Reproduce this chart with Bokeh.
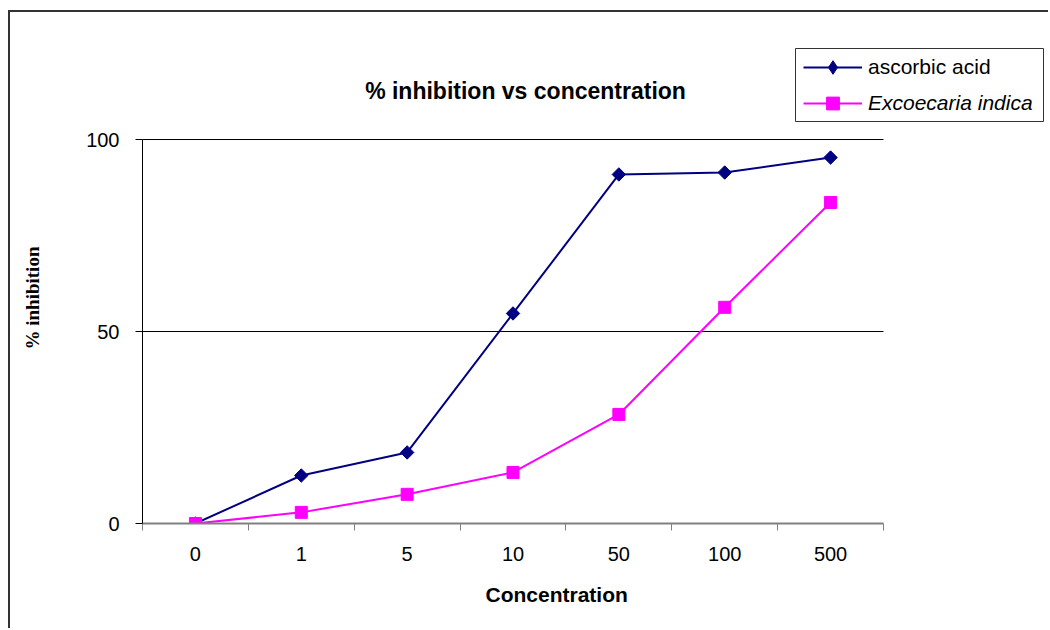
import math
from bokeh.plotting import figure
from bokeh.models import (Range1d, FixedTicker, Legend, LegendItem, Label, Title,
                          BoxAnnotation)
from bokeh.embed import file_html
from bokeh.resources import INLINE

# ---- data ----
categories = ["0", "1", "5", "10", "50", "100", "500"]
ascorbic_acid = [0, 12.5, 18.5, 54.7, 90.9, 91.4, 95.3]
excoecaria_indica = [0, 2.9, 7.6, 13.3, 28.4, 56.3, 83.6]
y_ticks = [0, 50, 100]
grid_ticks = [50, 100]

NAVY = "#000080"
MAGENTA = "#FF00FF"
FONT = "Liberation Sans"

n = len(categories)
xpos = [i + 0.5 for i in range(n)]
boundaries = list(range(n + 1))

# plot area of the chart: 741 px for the 7 categories, 384 px for 0..100;
# the drawing frame extends further right/up so that legend and title fit inside it
p = figure(width=1048, height=628, output_backend="svg", toolbar_location=None,
           x_range=Range1d(0, n * 906 / 741), y_range=Range1d(0, 100 * 503 / 384),
           min_border_left=142, min_border_right=0, min_border_top=20,
           min_border_bottom=105)
p.title = None
# outer chart border (top and left edges)
p.styles = {
    "background-image": "linear-gradient(#333333,#333333), linear-gradient(#333333,#333333)",
    "background-size": "2px 100%, 100% 2px",
    "background-position": "8px 10px, 8px 10px",
    "background-repeat": "no-repeat",
}
p.outline_line_color = None
p.background_fill_color = None
p.border_fill_color = None

# x axis: labels at category centres, tick marks at category boundaries
xa = p.xaxis[0]
xa.bounds = (0, n)
xa.ticker = FixedTicker(ticks=xpos, minor_ticks=boundaries)
xa.major_label_overrides = {xp: c for xp, c in zip(xpos, categories)}
xa.major_tick_out = 0
xa.major_tick_in = 0
xa.minor_tick_out = 7
xa.minor_tick_in = 0
xa.minor_tick_line_color = "#808080"
xa.axis_line_color = "#808080"
xa.axis_line_width = 2
xa.major_label_text_font = FONT
xa.major_label_text_font_size = "20px"
xa.major_label_text_color = "black"
xa.major_label_standoff = 16

ya = p.yaxis[0]
ya.bounds = (0, 100)
ya.ticker = FixedTicker(ticks=y_ticks)
ya.major_tick_out = 7
ya.major_tick_in = 0
ya.minor_tick_line_color = None
ya.axis_line_color = "black"
ya.major_tick_line_color = "black"
ya.major_label_text_font = FONT
ya.major_label_text_font_size = "20px"
ya.major_label_text_color = "black"
ya.major_label_standoff = 16

p.xgrid.visible = False
p.ygrid.visible = False
# horizontal gridlines across the category span only
p.segment(x0=[0] * len(grid_ticks), y0=grid_ticks, x1=[n] * len(grid_ticks),
          y1=grid_ticks, line_color="black", line_width=1)

l1 = p.line(xpos, ascorbic_acid, line_color=NAVY, line_width=2)
m1 = p.scatter(xpos, ascorbic_acid, marker="square", angle=math.pi / 4, size=9.5,
               fill_color=NAVY, line_color=NAVY)
# zero-size diamond renderer: only supplies the diamond shape to the legend
m1_key = p.scatter(xpos, ascorbic_acid, marker="diamond", size=0,
                   fill_color=NAVY, line_color=NAVY)
l2 = p.line(xpos, excoecaria_indica, line_color=MAGENTA, line_width=2)
m2 = p.scatter(xpos, excoecaria_indica, marker="square", size=12,
               fill_color=MAGENTA, line_color=MAGENTA)

# ---- legend box (screen units relative to frame bottom-left) ----
box = BoxAnnotation(left=653, right=901, bottom=402, top=475,
                    left_units="screen", right_units="screen",
                    bottom_units="screen", top_units="screen",
                    fill_color="white", fill_alpha=1,
                    line_color="#333333", line_width=1, line_alpha=1)
p.add_layout(box)

leg1 = Legend(items=[LegendItem(label="ascorbic acid", renderers=[l1, m1_key])],
              location=(661, 439), padding=0, margin=0, spacing=0,
              glyph_width=59, glyph_height=34, label_height=34, label_standoff=6,
              label_text_font=FONT, label_text_font_size="21px",
              label_text_color="black",
              background_fill_alpha=0, border_line_alpha=0)
leg2 = Legend(items=[LegendItem(label="Excoecaria indica", renderers=[l2, m2])],
              location=(661, 404), padding=0, margin=0, spacing=0,
              glyph_width=59, glyph_height=32, label_height=32, label_standoff=6,
              label_text_font=FONT, label_text_font_size="21px",
              label_text_font_style="italic", label_text_color="black",
              background_fill_alpha=0, border_line_alpha=0)
p.add_layout(leg1)
p.add_layout(leg2)

title = Label(x=383, y=433, x_units="screen", y_units="screen",
              text="% inhibition vs concentration", text_font=FONT,
              text_font_style="bold", text_font_size="23px",
              text_align="center", text_baseline="middle", text_color="black")
p.add_layout(title)

# ---- axis titles ----
xlabel = Title(text="Concentration", align="left", offset=343, vertical_align="middle",
               standoff=37, text_font=FONT, text_font_style="bold",
               text_font_size="21px", text_color="black")
p.add_layout(xlabel, "below")

spacer = Title(text=" ", standoff=27, text_font=FONT, text_font_size="10px")
ylabel = Title(text="% inhibition", align="left", offset=174, vertical_align="middle",
               standoff=0, text_font="Liberation Serif", text_font_style="bold",
               text_font_size="19px", text_color="black")
p.add_layout(spacer, "left")
p.add_layout(ylabel, "left")

open("out.html", "w").write(file_html(p, INLINE))
